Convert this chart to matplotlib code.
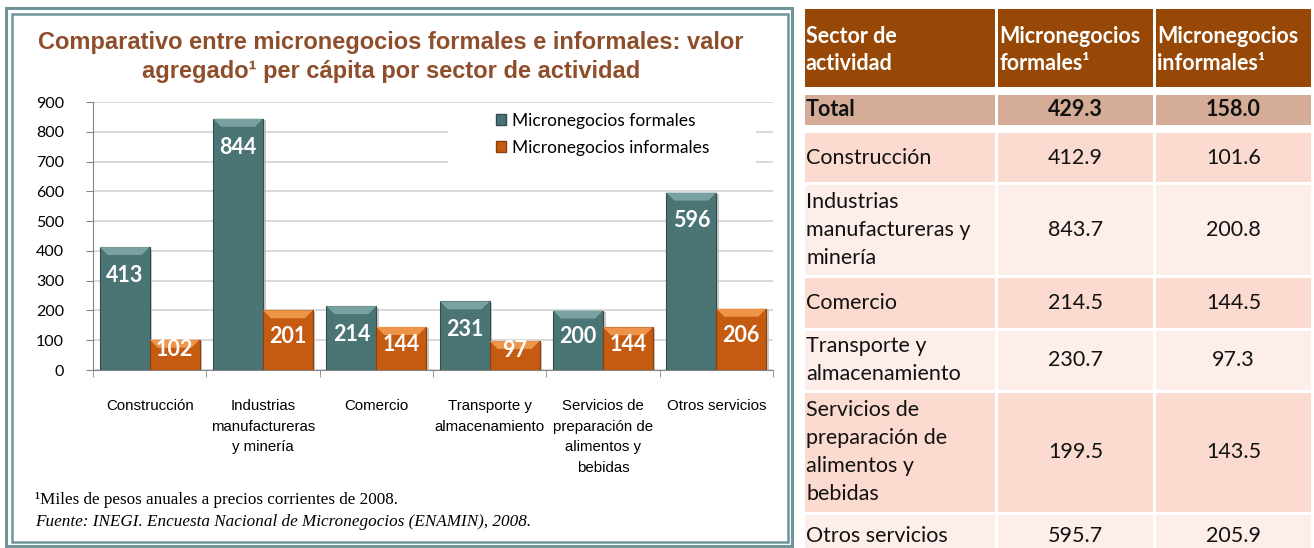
import numpy as np
import matplotlib
matplotlib.use("Agg")
import matplotlib.pyplot as plt
from matplotlib.patches import Rectangle, Polygon, Patch

# --- datos ---
sectores = ["Construcción", "Industrias\nmanufactureras\ny minería", "Comercio",
            "Transporte y\nalmacenamiento", "Servicios de\npreparación de\nalimentos y\nbebidas",
            "Otros servicios"]
formales = [412.9, 843.7, 214.5, 230.7, 199.5, 595.7]
informales = [101.6, 200.8, 144.5, 97.3, 143.5, 205.9]
series = ["Micronegocios formales", "Micronegocios informales"]
yticks = [0, 100, 200, 300, 400, 500, 600, 700, 800, 900]

filas_tabla = ["Total", "Construcción", "Industrias\nmanufactureras y\nminería", "Comercio",
               "Transporte y\nalmacenamiento", "Servicios de\npreparación de\nalimentos y\nbebidas",
               "Otros servicios"]
tabla_formales = [429.3] + formales
tabla_informales = [158.0] + informales
encabezados = ["Sector de\nactividad", "Micronegocios\nformales¹", "Micronegocios\ninformales¹"]

titulo = "Comparativo entre micronegocios formales e informales: valor\nagregado¹ per cápita por sector de actividad"
nota = "¹Miles de pesos anuales a precios corrientes de 2008."
fuente = "Fuente: INEGI. Encuesta Nacional de Micronegocios (ENAMIN), 2008."

# colores
teal, teal_l, teal_d = "#4b7475", "#7aa1a2", "#2f4d4e"
orng, orng_l, orng_d = "#c55a11", "#ee9448", "#8a3e0a"
brown = "#8f4e2b"
frame_c = "#6f9499"

W, H = 1314, 548
fig = plt.figure(figsize=(W / 100, H / 100), dpi=100)

# fondo en coordenadas de pixel
bg = fig.add_axes([0, 0, 1, 1])
bg.set_xlim(0, W)
bg.set_ylim(H, 0)
bg.axis("off")

# marco doble
bg.add_patch(Rectangle((5.5, 7.5), 786.5, 538, fill=False, ec=frame_c, lw=2.2))
bg.add_patch(Rectangle((11.5, 14), 776.5, 527.5, fill=False, ec=frame_c, lw=1.8))

bg.text(391, 57, titulo, ha="center", va="center", fontsize=17, weight="bold",
        color=brown, family="Liberation Sans", linespacing=1.3)
bg.text(35, 500, nota, ha="left", va="center", fontsize=12.3, family="Liberation Serif")
bg.text(35, 522, fuente, ha="left", va="center", fontsize=12.3, family="Liberation Serif",
        style="italic")

# --- grafica ---
ax = fig.add_axes([93 / W, 1 - 370 / H, 680 / W, 268 / H])
ax.set_xlim(-0.5, 5.5)
ax.set_ylim(0, 900)
ax.set_yticks(yticks)
ax.yaxis.grid(True, color="#d9d9d9", lw=1.4)
ax.set_axisbelow(True)
for s in ["top", "right"]:
    ax.spines[s].set_visible(False)
for s in ["left", "bottom"]:
    ax.spines[s].set_color("#868686")
ax.tick_params(axis="y", length=5, color="#868686", labelsize=11.5, pad=16,
               labelfontfamily="Lato")

x = np.arange(len(sectores))
ax.set_xticks(x)
ax.set_xticklabels(sectores, fontsize=10.8, family="Liberation Sans", linespacing=1.6)
ax.tick_params(axis="x", length=0, pad=21)
ax.set_xticks(np.arange(-0.5, len(sectores)), minor=True)
ax.tick_params(axis="x", which="minor", length=5, color="#868686")

# hueco blanco de la leyenda sobre la rejilla
ax.add_patch(Rectangle((2.63, 640), 2.72, 250, fc="white", ec="none", zorder=1))

w = 0.44
px_x = 1 / 113.3
px_y = 900 / 268


def bevel(bars, light):
    for b in bars:
        x0, bw, h = b.get_x(), b.get_width(), b.get_height()
        x1 = x0 + bw
        d = min(8, h / px_y / 3)
        ax.add_patch(Rectangle((x0 + 2.5 * px_x, 0), bw, h - 1.5 * px_y, fc="#b3b3b3",
                               ec="none", alpha=0.7, zorder=2))
        ax.add_patch(Polygon([(x0, h), (x1, h), (x1 - d * px_x, h - d * px_y),
                              (x0 + d * px_x, h - d * px_y)], fc=light, ec="none", zorder=4))


b1 = ax.bar(x - w / 2, formales, w, color=teal, ec=teal_d, lw=0.8, zorder=3)
b2 = ax.bar(x + w / 2, informales, w, color=orng, ec=orng_d, lw=0.8, zorder=3)
bevel(b1, teal_l)
bevel(b2, orng_l)

for bars, vals in [(b1, formales), (b2, informales)]:
    for b, v in zip(bars, vals):
        y_lab = max(v - 95, 0.45 * v + 22)
        ax.text(b.get_x() + b.get_width() / 2, y_lab, f"{v:.0f}", ha="center", va="center",
                color="white", fontsize=15.5, weight="bold", family="Lato", zorder=5)

handles = [Patch(fc=teal, ec=teal_d), Patch(fc=orng, ec=orng_d)]
ax.legend(handles, series, loc="upper left", bbox_to_anchor=((496 - 93) / 680, (370 - 113) / 268),
          frameon=False, handlelength=0.6, handleheight=0.6, handletextpad=0.3,
          labelspacing=0.62, borderaxespad=0, borderpad=0, prop=dict(family="Lato", size=12.5))

# --- tabla ---
cols = [(805, 995), (998, 1153), (1156, 1311)]
head_y = (9, 87)
filas_y = [(95, 125), (133, 182), (185, 275), (278, 328), (331, 390), (393, 512), (515, 565)]
fila_col = ["#d4ac97"] + ["#fbdbcf", "#fdeeea"] * 3
fs_tab = 15.5

for (c0, c1), txt in zip(cols, encabezados):
    bg.add_patch(Rectangle((c0, head_y[0]), c1 - c0, head_y[1] - head_y[0], fc="#974706", ec="none"))
    bg.text(c0 + 1, 50, txt, ha="left", va="center", color="white", weight="bold",
            fontsize=fs_tab, family="Lato", linespacing=1.32)

for i, (y0, y1) in enumerate(filas_y):
    peso = "bold" if i == 0 else "normal"
    for c0, c1 in cols:
        bg.add_patch(Rectangle((c0, y0), c1 - c0, y1 - y0, fc=fila_col[i], ec="none"))
    yc = (y0 + y1) / 2 if i < len(filas_y) - 1 else 536
    bg.text(cols[0][0] + 1, yc, filas_tabla[i], ha="left", va="center", fontsize=fs_tab,
            family="Lato", weight=peso, color="#111111", linespacing=1.5)
    bg.text(sum(cols[1]) / 2, yc, f"{tabla_formales[i]:.1f}", ha="center", va="center",
            fontsize=fs_tab, family="Lato", weight=peso, color="#111111")
    bg.text(sum(cols[2]) / 2, yc, f"{tabla_informales[i]:.1f}", ha="center", va="center",
            fontsize=fs_tab, family="Lato", weight=peso, color="#111111")

fig.savefig("out.png", dpi=100)
